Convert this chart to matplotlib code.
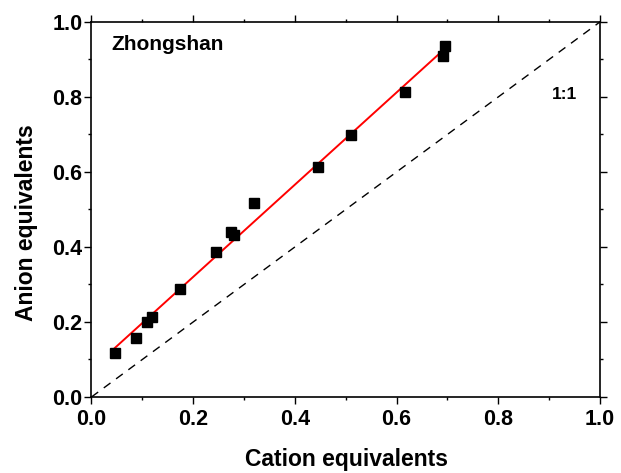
import matplotlib
matplotlib.use("Agg")
import matplotlib.pyplot as plt
import numpy as np
from matplotlib.ticker import MultipleLocator, FormatStrFormatter

cation = [0.046, 0.087, 0.109, 0.119, 0.174, 0.245, 0.275, 0.281, 0.320, 0.446, 0.511, 0.616, 0.691, 0.695]
anion = [0.116, 0.157, 0.199, 0.214, 0.287, 0.386, 0.439, 0.432, 0.516, 0.613, 0.698, 0.812, 0.909, 0.936]
site_label = "Zhongshan"
ratio_label = "1:1"
x_label = "Cation equivalents"
y_label = "Anion equivalents"

plt.rcParams['font.family'] = ['Liberation Sans', 'DejaVu Sans']
plt.rcParams['font.weight'] = 'bold'

fig = plt.figure(figsize=(6.21, 4.73), dpi=100)
ax = fig.add_axes([0.1473, 0.1607, 0.966 - 0.1473, 0.9535 - 0.1607])

ax.plot([0, 1], [0, 1], ls=(0, (6, 5)), color='black', lw=1.0)

coef = np.polyfit(cation, anion, 1)
xf = np.array([min(cation), max(cation)])
ax.plot(xf, np.polyval(coef, xf), color='red', lw=1.4)

ax.plot(cation, anion, 's', color='black', ms=6.5, zorder=3)

ax.set_xlim(0, 1)
ax.set_ylim(0, 1)
ax.xaxis.set_major_locator(MultipleLocator(0.2))
ax.xaxis.set_minor_locator(MultipleLocator(0.1))
ax.yaxis.set_major_locator(MultipleLocator(0.2))
ax.yaxis.set_minor_locator(MultipleLocator(0.1))
ax.tick_params(which='both', direction='out', top=True, right=True, width=1.0)
ax.tick_params(which='major', length=5, labelsize=15.5)
ax.tick_params(which='minor', length=2.5)
ax.tick_params(axis='x', which='major', pad=4)
ax.tick_params(axis='y', which='major', pad=1.5)
for lab in ax.get_xticklabels() + ax.get_yticklabels():
    lab.set_fontweight('bold')
ax.xaxis.set_major_formatter(FormatStrFormatter('%.1f'))
ax.yaxis.set_major_formatter(FormatStrFormatter('%.1f'))
for s in ax.spines.values():
    s.set_linewidth(1.2)

ax.set_xlabel(x_label, fontsize=16.5, fontweight='bold', va='top')
ax.set_ylabel(y_label, fontsize=16.5, fontweight='bold')
ax.xaxis.set_label_coords(0.501, -0.136)
ax.yaxis.set_label_coords(-0.105, 0.465)

ax.text(0.040, 0.94, site_label, transform=ax.transAxes, fontsize=15, fontweight='bold', va='center', ha='left')
ax.text(0.905, 0.807, ratio_label, transform=ax.transAxes, fontsize=12.5, fontweight='bold', va='center', ha='left')

fig.savefig("out.png", dpi=100)
